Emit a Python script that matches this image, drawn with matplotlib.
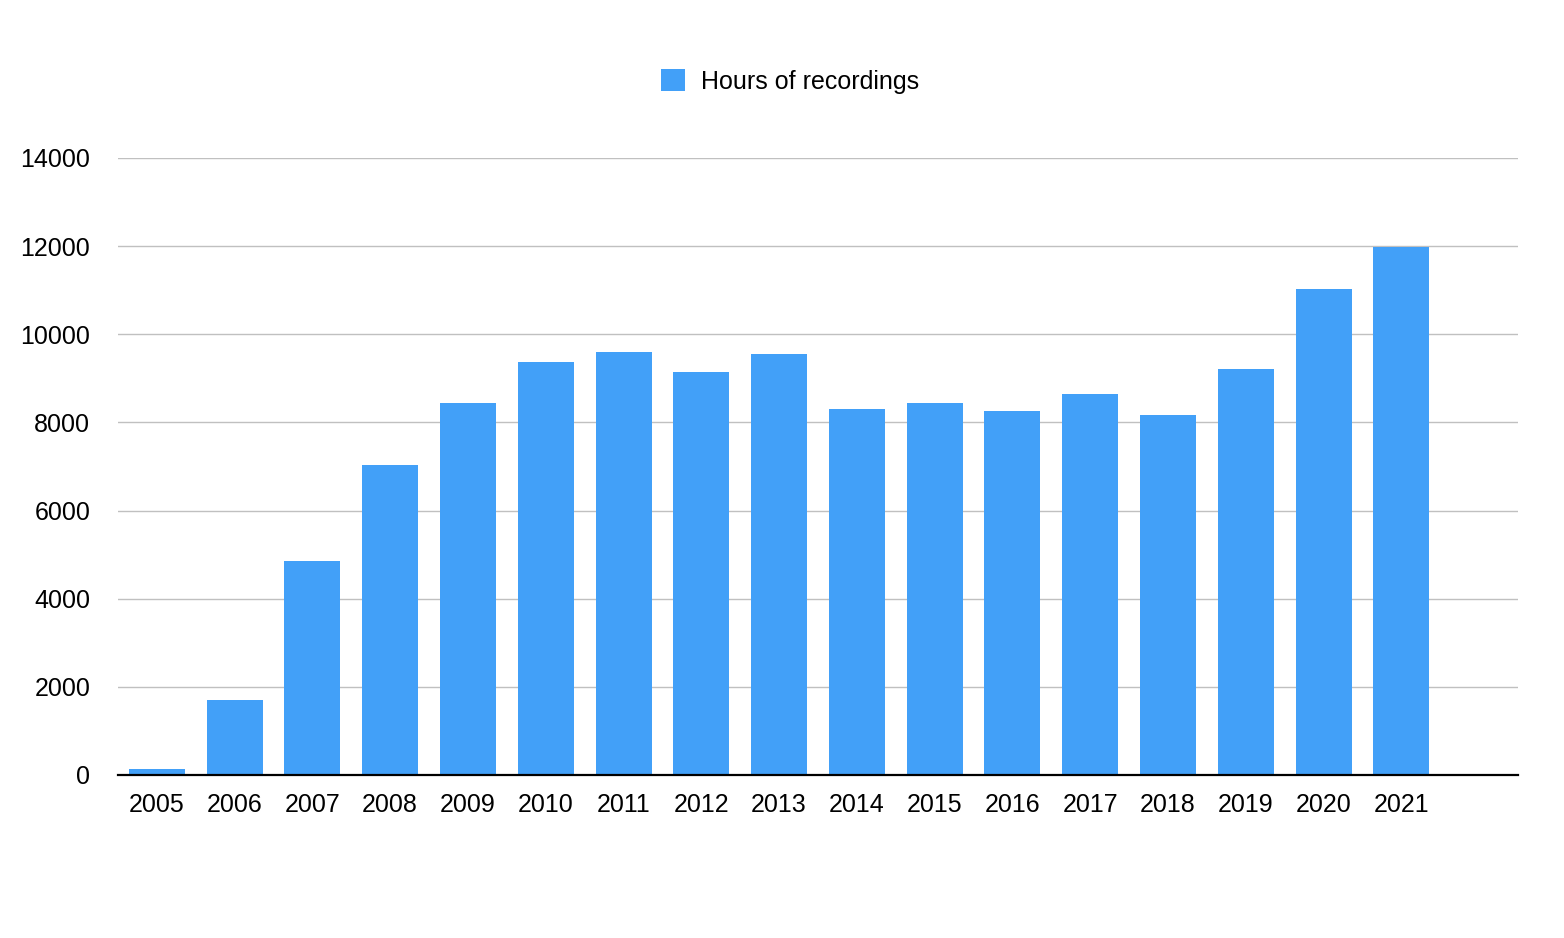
import numpy as np
import matplotlib
matplotlib.use("Agg")
import matplotlib.pyplot as plt
from matplotlib.patches import Patch

plt.rcParams['font.family'] = ['Liberation Sans', 'DejaVu Sans']

years = ["2005", "2006", "2007", "2008", "2009", "2010", "2011", "2012", "2013",
         "2014", "2015", "2016", "2017", "2018", "2019", "2020", "2021"]
hours = [130, 1700, 4860, 7030, 8440, 9370, 9600, 9150, 9550,
         8300, 8440, 8260, 8650, 8170, 9210, 11030, 11990]
n_slots = len(years) + 1  # one empty slot at the right end

bar_color = "#42a0f8"

fig = plt.figure(figsize=(15.64, 9.38), dpi=100)
ax = fig.add_axes([0.0754, 0.1738, 0.8952, 0.6578])

x = np.arange(len(years))
ax.bar(x, hours, width=0.72, color=bar_color, zorder=2)

ax.set_xlim(-0.5, n_slots - 0.5)
ax.set_ylim(0, 14000)
ax.set_yticks(np.arange(0, 14001, 2000))
ax.set_xticks(x)
ax.set_xticklabels(years)

ax.grid(axis='y', color='#c0c0c0', linewidth=1.0, zorder=0)
ax.set_axisbelow(True)
for s in ['top', 'right', 'left']:
    ax.spines[s].set_visible(False)
ax.spines['bottom'].set_color('black')
ax.spines['bottom'].set_linewidth(1.6)
ax.spines['bottom'].set_zorder(3)

ax.tick_params(axis='both', length=0, labelsize=18)
ax.tick_params(axis='x', pad=13)
ax.tick_params(axis='y', pad=20)

handle = Patch(facecolor=bar_color, edgecolor='none')
fig.legend([handle], ["Hours of recordings"], loc='center',
           bbox_to_anchor=(0.505, 0.913), frameon=False, fontsize=18,
           handlelength=0.95, handleheight=0.95, handletextpad=0.65)

fig.savefig("out.png", dpi=100)
